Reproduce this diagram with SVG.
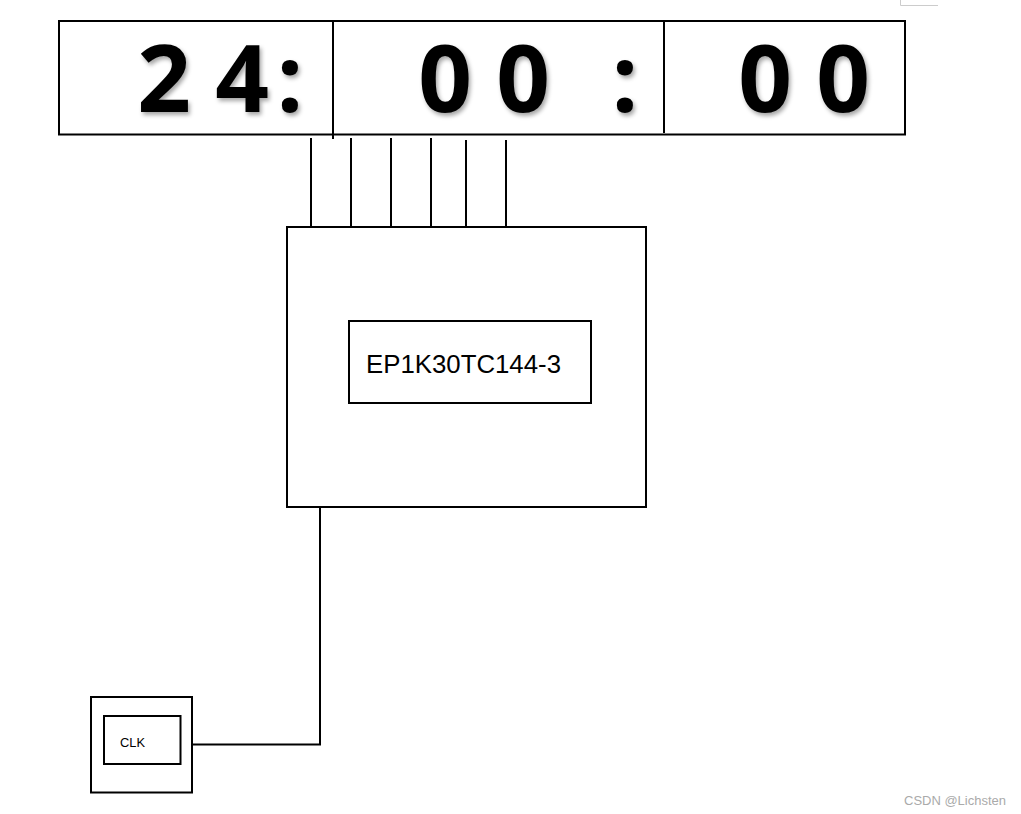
<svg xmlns="http://www.w3.org/2000/svg" width="1021" height="814" viewBox="0 0 1021 814">
<style>
.box{fill:none;stroke:#000;stroke-width:2}
.wire{fill:none;stroke:#000;stroke-width:2}
.dig{font-family:"Open Sans","Liberation Sans",sans-serif;font-weight:700;font-size:94px;fill:#000;text-anchor:middle}
.lbl{font-family:"Liberation Sans",Arial,sans-serif;fill:#000}
</style>
<defs>
<filter id="sh" x="-20%" y="-20%" width="140%" height="140%">
<feDropShadow dx="2" dy="3" stdDeviation="2" flood-color="#000" flood-opacity="0.35"/>
</filter>
</defs>
<rect width="1021" height="814" fill="#fff"/>
<polyline points="900.5,0 900.5,5.5 938,5.5" fill="none" stroke="#ccc" stroke-width="1"/>
<g id="display">
<rect class="box" x="59" y="21" width="846" height="113.5"/>
<line class="wire" x1="333" y1="21" x2="333" y2="139"/>
<line class="wire" x1="664" y1="21" x2="664" y2="133"/>
<g filter="url(#sh)">
<text class="dig" x="164" y="112">2</text>
<text class="dig" x="242" y="112">4</text>
<text class="dig" x="290" y="112">:</text>
<text class="dig" x="445" y="112">0</text>
<text class="dig" x="523" y="112">0</text>
<text class="dig" x="625" y="112">:</text>
<text class="dig" x="765" y="112">0</text>
<text class="dig" x="843" y="112">0</text>
</g>
</g>
<g id="connectors">
<line class="wire" x1="311" y1="138" x2="311" y2="226"/>
<line class="wire" x1="351" y1="138" x2="351" y2="226"/>
<line class="wire" x1="391" y1="138" x2="391" y2="226"/>
<line class="wire" x1="431" y1="138" x2="431" y2="226"/>
<line class="wire" x1="466" y1="140" x2="466" y2="226"/>
<line class="wire" x1="506" y1="140" x2="506" y2="226"/>
<polyline class="wire" points="320,507 320,744.5 192,744.5"/>
</g>
<g id="fpga">
<rect class="box" x="287" y="227" width="359" height="280"/>
<rect class="box" x="349" y="321" width="242" height="82"/>
<text class="lbl" x="366" y="373" font-size="26" textLength="195" lengthAdjust="spacingAndGlyphs">EP1K30TC144-3</text>
</g>
<g id="clk">
<rect class="box" x="91" y="697" width="101" height="95.5"/>
<rect class="box" x="104" y="716" width="76.5" height="48"/>
<text class="lbl" x="120" y="747" font-size="13" textLength="25" lengthAdjust="spacingAndGlyphs">CLK</text>
</g>
<text x="904" y="805" font-family="Liberation Sans,Arial,sans-serif" font-size="12" fill="#aaa" textLength="102" lengthAdjust="spacingAndGlyphs">CSDN @Lichsten</text>
</svg>
